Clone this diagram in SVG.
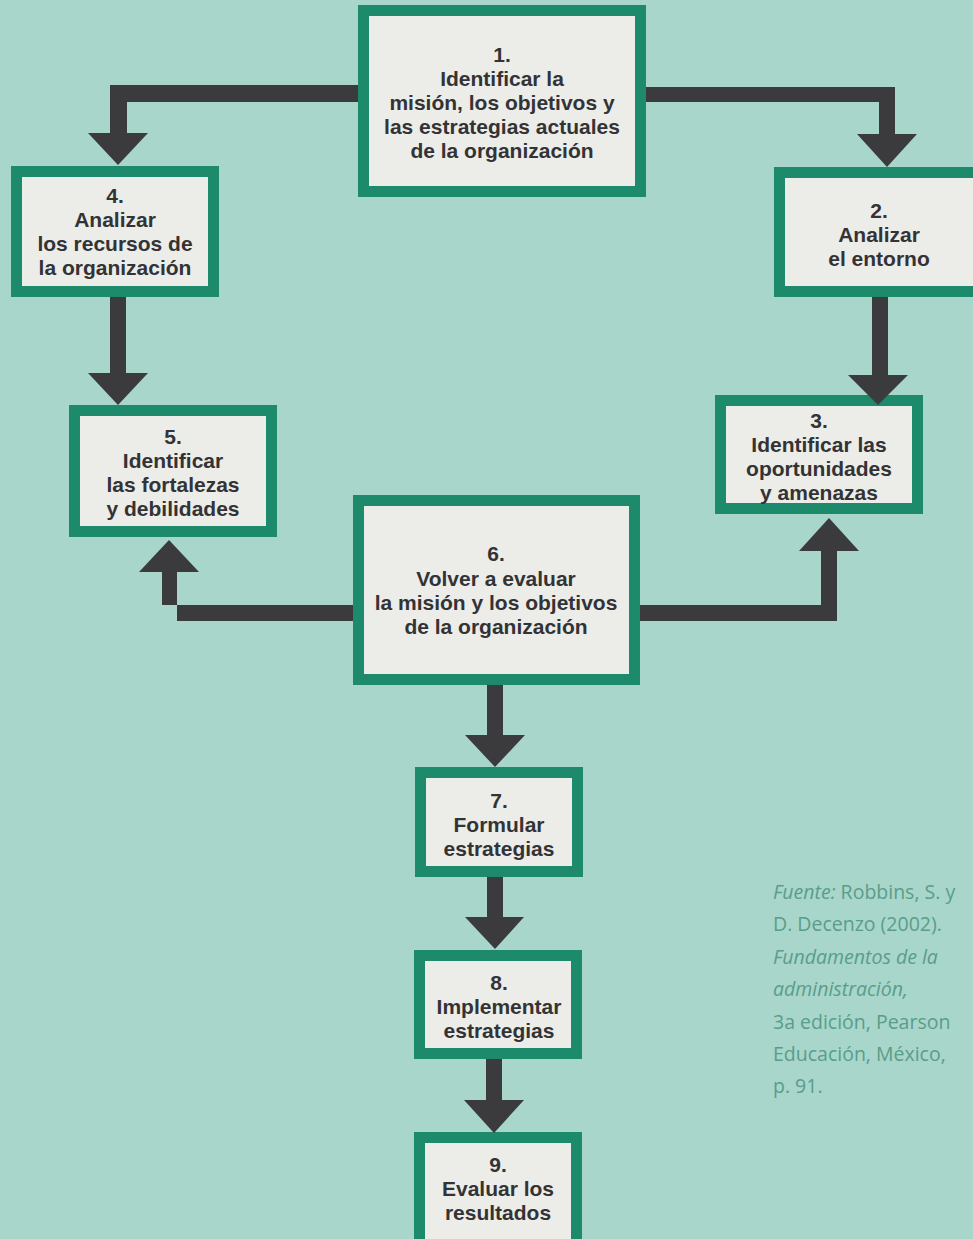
<svg xmlns="http://www.w3.org/2000/svg" width="973" height="1239" viewBox="0 0 973 1239">
  <style>
    .bg { fill: #a8d6ca; }
    .box { fill: #ecece9; stroke: #1d8a6b; stroke-width: 11; }
    .arrow { fill: #3b3a3d; }
    .label { font-family: "Liberation Sans", Arial, sans-serif; font-weight: 700; font-size: 21px; fill: #333335; text-anchor: middle; }
    .source { font-family: "Open Sans", "Noto Sans", sans-serif; font-weight: 400; font-size: 19.5px; fill: #5a9d8b; }
    .it { font-style: italic; }
  </style>

  <rect class="bg" x="0" y="0" width="973" height="1239"/>

  <g id="step1">
    <rect class="box" x="363.5" y="10.5" width="277" height="181"/>
    <text class="label" x="502" y="62">1.</text>
    <text class="label" x="502" y="86">Identificar la</text>
    <text class="label" x="502" y="110">misión, los objetivos y</text>
    <text class="label" x="502" y="134">las estrategias actuales</text>
    <text class="label" x="502" y="158">de la organización</text>
  </g>

  <g id="step2">
    <rect class="box" x="779.5" y="172.5" width="199" height="119"/>
    <text class="label" x="879" y="218">2.</text>
    <text class="label" x="879" y="242">Analizar</text>
    <text class="label" x="879" y="266">el entorno</text>
  </g>

  <g id="step3">
    <rect class="box" x="720.5" y="400.5" width="197" height="108"/>
    <text class="label" x="819" y="428">3.</text>
    <text class="label" x="819" y="452">Identificar las</text>
    <text class="label" x="819" y="476">oportunidades</text>
    <text class="label" x="819" y="500">y amenazas</text>
  </g>

  <g id="step4">
    <rect class="box" x="16.5" y="171.5" width="197" height="120"/>
    <text class="label" x="115" y="203">4.</text>
    <text class="label" x="115" y="227">Analizar</text>
    <text class="label" x="115" y="251">los recursos de</text>
    <text class="label" x="115" y="275">la organización</text>
  </g>

  <g id="step5">
    <rect class="box" x="74.5" y="410.5" width="197" height="121"/>
    <text class="label" x="173" y="444">5.</text>
    <text class="label" x="173" y="468">Identificar</text>
    <text class="label" x="173" y="492">las fortalezas</text>
    <text class="label" x="173" y="516">y debilidades</text>
  </g>

  <g id="step6">
    <rect class="box" x="358.5" y="500.5" width="276" height="179"/>
    <text class="label" x="496" y="561">6.</text>
    <text class="label" x="496" y="586">Volver a evaluar</text>
    <text class="label" x="496" y="610">la misión y los objetivos</text>
    <text class="label" x="496" y="634">de la organización</text>
  </g>

  <g id="step7">
    <rect class="box" x="420.5" y="772.5" width="157" height="99"/>
    <text class="label" x="499" y="808">7.</text>
    <text class="label" x="499" y="832">Formular</text>
    <text class="label" x="499" y="856">estrategias</text>
  </g>

  <g id="step8">
    <rect class="box" x="419.5" y="955.5" width="157" height="98"/>
    <text class="label" x="499" y="990">8.</text>
    <text class="label" x="499" y="1014">Implementar</text>
    <text class="label" x="499" y="1038">estrategias</text>
  </g>

  <g id="step9">
    <rect class="box" x="419.5" y="1137.5" width="157" height="120"/>
    <text class="label" x="498" y="1172">9.</text>
    <text class="label" x="498" y="1196">Evaluar los</text>
    <text class="label" x="498" y="1220">resultados</text>
  </g>

  <!-- connectors, drawn over the box borders so the tips reach the edges -->
  <g id="connectors">
    <!-- 1 -> 4 -->
    <polygon class="arrow" points="358,85 110,85 110,133 88,133 118,165 148,133 127,133 127,102 358,102"/>
    <!-- 1 -> 2 -->
    <polygon class="arrow" points="646,87 895,87 895,134 917,134 887,167 857,134 879,134 879,102 646,102"/>
    <!-- 2 -> 3 -->
    <polygon class="arrow" points="872,297 888,297 888,375 908,375 878,405 848,375 872,375"/>
    <!-- 4 -> 5 -->
    <polygon class="arrow" points="110,297 126,297 126,373 148,373 118,405 88,373 110,373"/>
    <!-- 6 -> 5 -->
    <polygon class="arrow" points="353,605 162,605 162,572 139,572 169,540 199,572 177,572 177,621 353,621"/>
    <!-- 6 -> 3 -->
    <polygon class="arrow" points="640,605 821,605 821,551 799,551 829,518 859,551 837,551 837,621 640,621"/>
    <!-- 6 -> 7 -->
    <polygon class="arrow" points="487,685 503,685 503,735 525,735 495,767 465,735 487,735"/>
    <!-- 7 -> 8 -->
    <polygon class="arrow" points="487,877 503,877 503,917 524,917 495,949 465,917 487,917"/>
    <!-- 8 -> 9 -->
    <polygon class="arrow" points="486,1059 502,1059 502,1100 524,1100 494,1133 464,1100 486,1100"/>
  </g>

  <!-- source note -->
  <g id="source">
    <text class="source" x="773" y="899"><tspan class="it">Fuente:</tspan> Robbins, S. y</text>
    <text class="source" x="773" y="931">D. Decenzo (2002).</text>
    <text class="source it" x="773" y="964">Fundamentos de la</text>
    <text class="source it" x="773" y="996">administración,</text>
    <text class="source" x="773" y="1029">3a edición, Pearson</text>
    <text class="source" x="773" y="1061">Educación, México,</text>
    <text class="source" x="773" y="1093">p. 91.</text>
  </g>
</svg>
